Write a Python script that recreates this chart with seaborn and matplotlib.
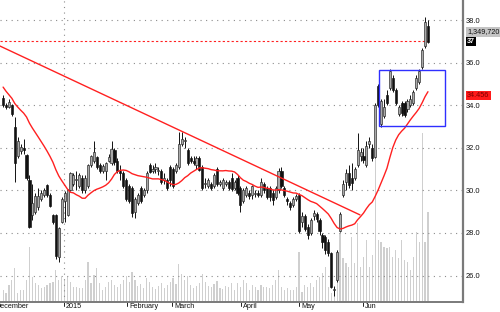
import numpy as np
import pandas as pd
import matplotlib
matplotlib.use("Agg")
import matplotlib.pyplot as plt
import matplotlib.transforms as mtrans
from matplotlib.patches import Rectangle
import seaborn as sns

# ---------------- data ----------------
opens = [34.35, 34.0, 33.9, 34.0, 33.0, 31.6, 31.85, 32.0, 31.65, 30.5,
         28.85, 29.0, 29.2, 29.6, 29.8, 30.25, 29.8, 28.85, 28.85, 26.85,
         28.5, 29.5, 28.85, 30.0, 30.3, 30.5, 30.2, 30.6, 30.0, 30.2,
         31.2, 31.4, 31.55, 31.2, 30.9, 30.9, 31.4, 31.3, 31.9, 31.4,
         30.9, 30.8, 30.5, 30.2, 30.1, 29.0, 29.4, 30.1, 29.8, 30.0,
         31.2, 30.9, 31.0, 30.9, 30.9, 30.5, 30.5, 31.1, 31.0, 30.9,
         31.1, 32.2, 32.3, 31.9, 31.5, 31.4, 31.2, 31.5, 31.1, 30.3,
         30.2, 30.3, 30.2, 31.0, 30.3, 30.1, 30.3, 30.4, 30.6, 30.1,
         30.6, 30.1, 29.5, 29.8, 29.9, 29.8, 29.85, 29.9, 29.8, 30.3,
         30.1, 30.1, 29.9, 29.7, 30.0, 30.9, 30.1, 29.6, 29.4, 29.3,
         29.6, 29.8, 28.5, 28.8, 28.3, 28.0, 28.8, 28.9, 28.6, 27.9,
         27.8, 27.6, 27.05, 25.3, 25.8, 28.1, 29.8, 30.4, 30.8, 30.6,
         30.6, 31.2, 31.6, 31.6, 31.2, 32.2, 32.0, 31.55, 34.9, 33.1,
         33.5, 34.5, 34.8, 35.3, 34.7, 33.6, 34.1, 34.1, 33.8, 34.0,
         34.1, 34.8, 35.1, 35.8, 36.8, 37.7]
highs = [34.5, 34.1, 34.3, 34.05, 33.45, 32.5, 32.2, 32.4, 31.7, 30.7,
         30.3, 29.9, 30.1, 30.0, 30.1, 30.3, 29.9, 28.9, 28.9, 28.3,
         29.7, 29.95, 30.05, 30.85, 30.8, 30.9, 30.8, 30.7, 30.7, 31.25,
         31.65, 32.3, 31.6, 31.3, 31.25, 31.35, 31.7, 32.3, 32.0, 31.5,
         31.2, 30.9, 30.6, 30.3, 30.2, 29.7, 29.9, 30.2, 30.1, 30.9,
         31.3, 31.2, 31.3, 31.1, 31.0, 30.8, 30.6, 31.2, 31.1, 31.3,
         32.75, 32.75, 32.5, 32.0, 31.6, 31.6, 31.6, 31.6, 31.2, 30.6,
         30.6, 30.4, 30.8, 31.1, 30.5, 30.6, 30.5, 30.5, 30.8, 30.5,
         30.7, 30.2, 30.1, 30.2, 30.0, 30.25, 30.0, 30.0, 30.6, 30.4,
         30.2, 30.2, 30.0, 30.2, 31.05, 31.1, 30.2, 29.7, 29.5, 29.7,
         29.85, 29.9, 29.0, 28.9, 28.4, 28.7, 29.1, 29.0, 28.7, 28.0,
         27.9, 27.7, 27.1, 25.5, 27.2, 29.0, 30.5, 31.0, 31.2, 31.3,
         31.1, 32.7, 32.0, 32.0, 32.3, 32.5, 32.2, 34.1, 35.0, 34.3,
         34.3, 34.7, 35.7, 35.4, 34.8, 34.0, 34.2, 34.2, 34.3, 34.5,
         34.7, 35.4, 35.7, 36.7, 38.15, 38.0]
lows = [33.9, 33.8, 33.85, 33.5, 30.4, 31.5, 31.7, 31.7, 30.5, 28.25,
        28.6, 28.9, 29.1, 29.5, 29.7, 29.7, 29.2, 28.4, 26.8, 26.65,
        28.45, 28.5, 28.8, 29.95, 30.2, 30.0, 30.1, 29.9, 29.9, 30.1,
        31.1, 31.3, 31.0, 30.8, 30.8, 30.5, 31.35, 31.2, 31.2, 30.8,
        30.5, 30.1, 29.5, 29.4, 28.75, 28.7, 29.3, 29.4, 29.7, 29.9,
        30.8, 30.8, 30.8, 30.7, 30.3, 30.3, 30.0, 30.2, 30.1, 30.8,
        31.0, 32.1, 32.0, 31.2, 31.3, 31.2, 31.0, 30.9, 30.0, 30.1,
        30.1, 30.0, 30.1, 30.2, 30.2, 30.0, 30.2, 30.0, 29.95, 30.0,
        29.8, 29.0, 29.4, 29.7, 29.6, 29.6, 29.7, 29.7, 29.7, 29.9,
        29.6, 29.5, 29.3, 29.6, 29.9, 30.1, 29.7, 29.3, 29.1, 29.2,
        29.5, 28.0, 28.3, 28.1, 27.7, 27.9, 28.6, 28.5, 27.9, 27.3,
        27.0, 26.9, 25.4, 25.05, 25.7, 28.05, 29.7, 30.0, 30.1, 30.0,
        30.5, 31.1, 31.4, 31.3, 31.1, 32.0, 31.4, 31.5, 33.9, 33.0,
        33.4, 34.0, 34.7, 34.6, 34.0, 33.5, 33.5, 33.45, 33.7, 33.9,
        34.0, 34.7, 35.0, 35.7, 36.7, 36.9]
closes = [34.0, 33.9, 34.15, 33.6, 31.3, 32.3, 32.05, 31.9, 30.6, 28.3,
          29.4, 29.75, 29.75, 29.9, 30.0, 29.8, 29.25, 28.5, 26.9, 28.25,
          29.6, 29.9, 30.0, 30.8, 30.7, 30.55, 30.7, 30.0, 30.6, 31.2,
          31.6, 31.8, 31.1, 30.9, 31.15, 31.3, 31.55, 31.95, 31.35, 30.9,
          30.8, 30.2, 29.6, 29.5, 28.95, 29.6, 29.8, 29.5, 30.0, 30.8,
          30.85, 31.0, 31.1, 30.95, 30.4, 30.6, 30.1, 30.5, 30.2, 31.2,
          32.2, 32.4, 32.35, 31.3, 31.4, 31.3, 31.5, 30.95, 30.1, 30.35,
          30.5, 30.1, 30.7, 30.3, 30.4, 30.5, 30.4, 30.1, 30.05, 30.4,
          29.9, 29.3, 30.0, 30.1, 29.75, 30.2, 29.9, 29.8, 30.4, 30.0,
          29.7, 29.7, 29.55, 30.1, 30.9, 30.2, 29.8, 29.5, 29.2, 29.6,
          29.75, 28.1, 28.8, 28.2, 27.9, 28.6, 28.95, 28.65, 28.1, 27.6,
          27.2, 27.05, 25.45, 25.35, 27.1, 28.9, 30.3, 30.8, 30.25, 30.35,
          31.0, 31.9, 31.8, 31.45, 32.1, 32.3, 31.5, 34.0, 34.0, 34.2,
          33.9, 34.1, 35.6, 34.7, 34.1, 33.9, 33.65, 33.55, 34.2, 34.3,
          34.6, 35.3, 35.6, 36.6, 37.9, 36.97]
volume_k = [180, 135, 255, 330, 510, 135, 180, 180, 330, 825,
            375, 285, 255, 210, 225, 255, 285, 300, 480, 330,
            375, 330, 375, 300, 225, 225, 210, 210, 330, 600,
            285, 405, 510, 285, 180, 225, 300, 330, 255, 225,
            270, 330, 390, 300, 450, 330, 240, 270, 210, 360,
            300, 225, 195, 240, 285, 210, 255, 300, 360, 270,
            570, 420, 330, 390, 255, 210, 240, 285, 420, 300,
            240, 225, 270, 315, 210, 195, 240, 225, 285, 180,
            285, 225, 330, 285, 180, 255, 225, 180, 255, 225,
            225, 210, 255, 330, 480, 225, 180, 210, 180, 180,
            225, 750, 150, 255, 225, 285, 225, 330, 375, 435,
            525, 225, 135, 180, 780, 1035, 660, 585, 525, 975,
            585, 1185, 525, 675, 930, 525, 705, 2175, 930, 900,
            825, 810, 825, 675, 780, 660, 930, 630, 600, 480,
            675, 1050, 900, 2535, 900, 1349.72]
# closes of the sessions just before the visible window (seed the 20-day average)
closes_before = [37.8, 37.4, 37.0, 36.2, 35.6, 35.0, 34.6, 34.3, 34.1, 34.0,
                 33.9, 34.0, 34.2, 34.3, 34.4, 34.2, 34.0, 33.9, 34.1]
ma_window = 20

month_labels = ["December", "2015", "February", "March", "April", "May", "Jun"]
month_pos = [-3.2, 20.8, 42.3, 57.6, 81.2, 101.0, 122.8]
price_ticks = [26.0, 28.0, 30.0, 32.0, 34.0, 36.0, 38.0]
trend_idx = [-1.1, 121.8]
trend_price = [36.78, 28.85]
box_idx = [128.3, 150.8]
box_price = [33.02, 35.65]
volume_label = "1,349,720"
close_label = "37"
ma_label = "34.456"
close_value = 37.0
ma_value = 34.456

# ---------------- figure ----------------
sns.set_style("white")
plt.rcParams["font.family"] = ["Liberation Sans", "DejaVu Sans"]

W, H = 500, 312
fig = plt.figure(figsize=(W / 100, H / 100), dpi=100)
ax = fig.add_axes([0, 10 / H, 463 / W, 302 / H])
ax2 = ax.twinx()
ax.set_zorder(ax2.get_zorder() + 1)
ax.patch.set_visible(False)

n = len(closes)
idx = np.arange(n)

# volume (background)
sns.barplot(x=idx, y=volume_k, native_scale=True, ax=ax2, color="#cfcfcf",
            width=0.4, errorbar=None, saturation=1, linewidth=0)
ax2.set_ylim(0, 4530)
ax2.set_yticks([])
ax2.set_ylabel("")
ax2.set_xlabel("")
for s in ax2.spines.values():
    s.set_visible(False)

# grid
for p in price_ticks:
    ax.axhline(p, color="#8c8c8c", lw=0.8, ls=(0, (1, 4)), zorder=1)
ax.axvline(month_pos[1], color="#8c8c8c", lw=0.8, ls=(0, (1, 4)), zorder=1)

# last-close dotted line
ax.plot([trend_idx[0], n - 1], [close_value, close_value], color="#ff2020",
        lw=0.8, ls=(0, (2, 2)), zorder=2)

# candles
o = np.array(opens); c = np.array(closes); h = np.array(highs); l = np.array(lows)
up = c >= o
ax.vlines(idx, l, h, color="#111111", lw=0.7, zorder=3)
ax.bar(idx[up], (c - o)[up], bottom=o[up], width=0.72, color="#a9a9a9",
       edgecolor="#222222", linewidth=0.45, zorder=4)
ax.bar(idx[~up], (o - c)[~up], bottom=c[~up], width=0.72, color="#111111",
       edgecolor="#111111", linewidth=0.45, zorder=4)

# moving average and trend line
ma = pd.Series(closes_before + closes).rolling(ma_window).mean().to_numpy()[len(closes_before):]
sns.lineplot(x=idx, y=ma, ax=ax, color="#ff2020", lw=1.0, zorder=5)
sns.lineplot(x=trend_idx, y=trend_price, ax=ax, color="#ff2020", lw=1.0, zorder=5)

# blue box
ax.add_patch(Rectangle((box_idx[0], box_price[0]), box_idx[1] - box_idx[0],
                       box_price[1] - box_price[0], fill=False, ec="#2f2fff",
                       lw=1.0, zorder=6))

ax.set_xlim(-1.06, 156.96)
ax.set_ylim(24.76, 38.94)

# axes styling
for side in ["left", "top"]:
    ax.spines[side].set_visible(False)
ax.spines["right"].set_color("#7a7a7a"); ax.spines["right"].set_linewidth(1.6)
ax.spines["bottom"].set_color("#7a7a7a"); ax.spines["bottom"].set_linewidth(1.4)
ax.set_xticks([])
ax.set_yticks(price_ticks)
ax.set_yticklabels([f"{p:.1f}" for p in price_ticks])
ax.yaxis.tick_right()
ax.tick_params(axis="y", length=0, pad=2.2, labelsize=5.4, colors="#111111")
ax.set_xlabel(""); ax.set_ylabel("")

# month labels with small tick marks
tr = mtrans.blended_transform_factory(ax.transData, ax.transAxes)
for lab, pos in zip(month_labels, month_pos):
    ax.plot([pos, pos], [0, -0.012], color="#222222", lw=0.7, transform=tr,
            clip_on=False)
    ax.text(pos + 0.7, -0.004, lab, transform=tr, ha="left", va="top",
            fontsize=5.2, color="#111111", clip_on=False)

# right-side value labels
trr = mtrans.blended_transform_factory(ax.transAxes, ax.transData)
xl = 467 / 463
ax.text(xl, close_value + 0.45, volume_label, transform=trr, ha="left", va="center",
        fontsize=5.2, color="#111111",
        bbox=dict(boxstyle="square,pad=0.18", fc="#c4c4c4", ec="none"))
ax.text(xl, close_value, close_label, transform=trr, ha="left", va="center",
        fontsize=5.2, color="white", fontweight="bold",
        bbox=dict(boxstyle="square,pad=0.18", fc="#000000", ec="none"))
ax.text(xl, ma_value, ma_label, transform=trr, ha="left", va="center",
        fontsize=5.2, color="#7a0000",
        bbox=dict(boxstyle="square,pad=0.18", fc="#ff1a1a", ec="none"))

fig.savefig("out.png", dpi=100)
